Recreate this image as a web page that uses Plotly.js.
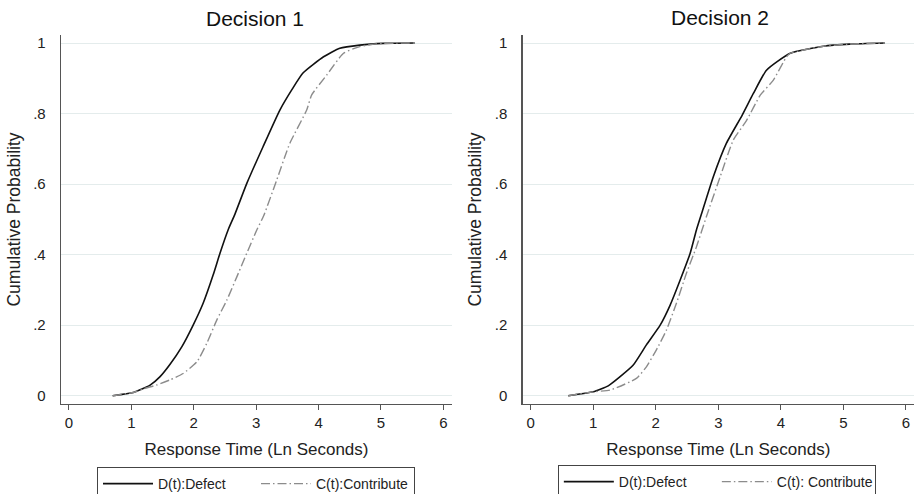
<!DOCTYPE html>
<html>
<head>
<meta charset="utf-8">
<script src="https://cdn.plot.ly/plotly-3.0.1.min.js"></script>
<style>html,body{margin:0;padding:0;background:#fff;}#chart{width:916px;height:494px;}</style>
</head>
<body>
<div id="chart"></div>
<script>
// Decision 1
const d1DefectX = [0.70,1.03,1.30,1.46,1.62,1.81,1.99,2.15,2.31,2.42,2.55,2.66,2.85,3.11,3.38,3.58,3.75,4.08,4.34,4.66,5.04,5.54];
const d1DefectY = [0,0.009,0.030,0.054,0.089,0.139,0.20,0.262,0.342,0.404,0.47,0.515,0.602,0.706,0.81,0.87,0.915,0.961,0.985,0.994,0.999,1.0];
const d1ContribX = [0.70,1.03,1.20,1.40,1.62,1.83,2.05,2.21,2.37,2.53,2.69,2.85,3.01,3.12,3.33,3.54,3.81,3.89,4.13,4.40,4.66,4.85,5.04,5.54];
const d1ContribY = [0,0.009,0.020,0.030,0.045,0.063,0.096,0.149,0.215,0.271,0.337,0.404,0.47,0.51,0.612,0.716,0.81,0.853,0.909,0.971,0.99,0.996,0.999,1.0];
// Decision 2
const d2DefectX = [0.60,1.00,1.24,1.43,1.64,1.85,2.07,2.23,2.39,2.55,2.65,2.73,2.92,3.13,3.38,3.56,3.77,4.15,4.68,5.10,5.66];
const d2DefectY = [0,0.011,0.028,0.054,0.087,0.144,0.20,0.257,0.328,0.404,0.47,0.515,0.621,0.716,0.795,0.857,0.923,0.971,0.991,0.997,1.0];
const d2ContribX = [0.60,1.00,1.27,1.69,1.85,2.01,2.17,2.33,2.49,2.65,2.81,3.03,3.24,3.45,3.67,3.88,4.09,4.15,4.68,5.10,5.66];
const d2ContribY = [0,0.011,0.016,0.049,0.082,0.13,0.186,0.262,0.347,0.422,0.508,0.621,0.725,0.78,0.852,0.895,0.961,0.971,0.991,0.997,1.0];

const yTickVals = [0,0.2,0.4,0.6,0.8,1];
const yTickText = ['0','.2','.4','.6','.8','1'];
const xTickVals = [0,1,2,3,4,5,6];
const panelTitles = ['Decision 1','Decision 2'];
const legendNames1 = ['D(t):Defect','C(t):Contribute'];
const legendNames2 = ['D(t):Defect','C(t): Contribute'];

const FONT = 'Liberation Sans, Arial, sans-serif';
const defectLine = {color:'#111111', width:1.6, shape:'spline', smoothing:0.5};
const contribLine = {color:'#8c8c8c', width:1.4, dash:'9px,3px,1.5px,3px', shape:'spline', smoothing:0.5};

const traces = [
  {x:d1DefectX, y:d1DefectY, xaxis:'x', yaxis:'y', mode:'lines', name:legendNames1[0], line:defectLine, legend:'legend'},
  {x:d1ContribX, y:d1ContribY, xaxis:'x', yaxis:'y', mode:'lines', name:legendNames1[1], line:contribLine, legend:'legend'},
  {x:d2DefectX, y:d2DefectY, xaxis:'x2', yaxis:'y2', mode:'lines', name:legendNames2[0], line:defectLine, legend:'legend2'},
  {x:d2ContribX, y:d2ContribY, xaxis:'x2', yaxis:'y2', mode:'lines', name:legendNames2[1], line:contribLine, legend:'legend2'}
];

function xAxis(domain, range, anchor){
  return {domain:domain, range:range, anchor:anchor, tickvals:xTickVals, ticks:'outside', ticklen:5, tickcolor:'#555',
    showline:true, linecolor:'#555', linewidth:1.3, showgrid:false, zeroline:false, automargin:false,
    tickfont:{family:FONT, size:15, color:'#222'},
    title:{text:'Response Time (Ln Seconds)', font:{family:FONT, size:17, color:'#222'}, standoff:12}};
}
function yAxis(anchor){
  return {domain:[0.1822,0.9291], range:[-0.0235,1.0227], anchor:anchor, tickvals:yTickVals, ticktext:yTickText,
    ticks:'', showline:true, linecolor:'#555', linewidth:1.3, showgrid:true, gridcolor:'#e4ecec', gridwidth:1,
    zeroline:false, ticklabelstandoff:11, automargin:false,
    tickfont:{family:FONT, size:15, color:'#222'},
    title:{text:'Cumulative Probability', font:{family:FONT, size:17.5, color:'#222'}, standoff:8}};
}

const legendCommon = {orientation:'h', bordercolor:'#444', borderwidth:1, bgcolor:'#fff',
  font:{family:FONT, size:14, color:'#222'}, xanchor:'left', yanchor:'top', itemwidth:50, entrywidth:93, entrywidthmode:'pixels', tracegroupgap:0};

const layout = {
  width:916, height:494,
  margin:{l:0, r:0, t:0, b:0, autoexpand:false},
  paper_bgcolor:'#fff', plot_bgcolor:'#fff',
  showlegend:true,
  xaxis:xAxis([0.0666,0.4934], [-0.128,6.138], 'y'),
  yaxis:yAxis('x'),
  xaxis2:xAxis([0.5706,0.9978], [-0.128,6.128], 'y2'),
  yaxis2:yAxis('x2'),
  legend:Object.assign({}, legendCommon, {x:0.1059, y:1-467/494}),
  legend2:Object.assign({}, legendCommon, {x:0.609, y:1-465/494}),
  annotations:[
    {text:panelTitles[0], xref:'paper', yref:'paper', x:255/916, y:1-18/494, xanchor:'center', yanchor:'middle', showarrow:false, font:{family:FONT, size:21, color:'#111'}},
    {text:panelTitles[1], xref:'paper', yref:'paper', x:720/916, y:1-17/494, xanchor:'center', yanchor:'middle', showarrow:false, font:{family:FONT, size:21, color:'#111'}}
  ]
};

Plotly.newPlot('chart', traces, layout, {displayModeBar:false, staticPlot:true});
</script>
</body>
</html>
